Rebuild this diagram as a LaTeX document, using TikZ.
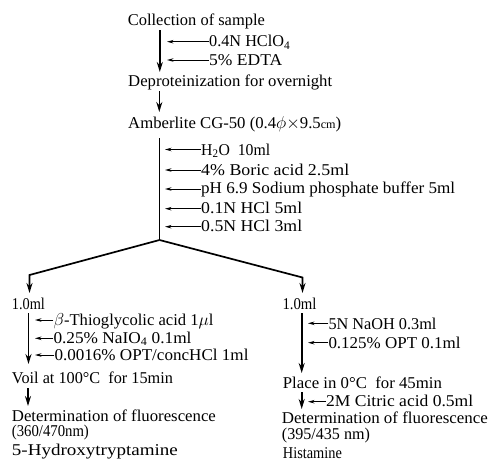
\documentclass[tikz,border=0pt]{standalone}
\usepackage{fontspec}
\usepackage{graphicx}
\setmainfont{Liberation Serif}
\usetikzlibrary{arrows.meta}
\newcommand\fw[2]{\resizebox{#1pt}{\height}{#2}}
\begin{document}
\begin{tikzpicture}[x=1pt,y=-1pt,
  txt/.style={anchor=base west,inner sep=0pt,font=\fontsize{16.5}{17}\selectfont},
  main/.style={line width=1.6pt,-{Stealth[length=10pt,width=6pt]}},
  side/.style={line width=0.9pt,-{Stealth[length=6.5pt,width=3.5pt]}},
  branch/.style={line width=1.7pt}]
\useasboundingbox (0,0) rectangle (489,466);

% top part
\node[txt] (coll) at (127.7,25) {\fw{137}{Collection of sample}};
\node[txt] (r1) at (209,46.7) {\fw{81}{0.4N HClO\textsubscript{4}}};
\node[txt] (r2) at (209,65) {\fw{73}{5\% EDTA}};
\node[txt] (dep) at (128,86.7) {\fw{204}{Deproteinization for overnight}};
\node[txt] (amb) at (128,128.3) {\fw{213}{Amberlite CG-50 (0.4$\phi$$\times$9.5{\fontsize{12}{12}\selectfont cm})}};

\coordinate (a1s) at (159.8,30);
\coordinate (a1e) at (159.8,72);
\draw[main] (a1s) -- (a1e);
\coordinate (r1e) at (167,41.7);
\coordinate (r2e) at (167,60);
\draw[side] (r1e -| r1.west) -- (r1e);
\draw[side] (r2e -| r2.west) -- (r2e);

\coordinate (a2s) at (159.3,91);
\coordinate (a2e) at (159.3,112);
\draw[main] (a2s) -- (a2e);

% column
\node[txt] (c1) at (201,155) {\fw{69}{H\textsubscript{2}O\ \ 10ml}};
\node[txt] (c2) at (201,175) {\fw{148}{4\% Boric acid 2.5ml}};
\node[txt] (c3) at (201,193.5) {\fw{254}{pH 6.9 Sodium phosphate buffer 5ml}};
\node[txt] (c4) at (201,213) {\fw{101}{0.1N HCl 5ml}};
\node[txt] (c5) at (201,231.5) {\fw{101}{0.5N HCl 3ml}};
\coordinate (c1e) at (165,149.5);
\coordinate (c2e) at (165,170);
\coordinate (c3e) at (165,189);
\coordinate (c4e) at (165,208.7);
\coordinate (c5e) at (165,226.7);
\foreach \n in {1,...,5} {\draw[side] (c\n e -| c\n.west) -- (c\n e);}

\coordinate (a3s) at (159.5,138);
\coordinate (br) at (159.5,240);
\coordinate (bl) at (29.5,275);
\coordinate (bltip) at (29.5,293);
\coordinate (brr) at (302.5,277.5);
\coordinate (brtip) at (302.5,293);
\draw[branch] (a3s) -- (br);
\draw[branch,-{Stealth[length=10pt,width=6pt]}] (br) -- (bl) -- (bltip);
\draw[branch,-{Stealth[length=10pt,width=6pt]}] (br) -- (brr) -- (brtip);

% left branch
\node[txt] (l0) at (11.7,309) {\fw{33}{1.0ml}};
\node[txt] (l1) at (53.3,325) {\fw{160}{$\beta$-Thioglycolic acid 1$\mu$l}};
\node[txt] (l2) at (53.3,343.3) {\fw{138}{0.25\% NaIO\textsubscript{4} 0.1ml}};
\node[txt] (l3) at (54.3,360) {\fw{194}{0.0016\% OPT/concHCl 1ml}};
\coordinate (l1e) at (35,320);
\coordinate (l2e) at (35,338.3);
\coordinate (l3e) at (35,355);
\foreach \n in {1,2,3} {\draw[side] (l\n e -| l\n.west) -- (l\n e);}
\coordinate (la1s) at (28.5,313);
\coordinate (la1e) at (28.5,364);
\draw[main] (la1s) -- (la1e);
\node[txt] (voil) at (11.7,383) {\fw{161}{Voil at 100°C\ \ for 15min}};
\coordinate (la2s) at (28,388);
\coordinate (la2e) at (28,406);
\draw[main] (la2s) -- (la2e);
\node[txt] (ldet) at (11.7,421.5) {\fw{204}{Determination of fluorescence}};
\node[txt] (lnm) at (11.7,436.5) {\fw{77}{(360/470nm)}};
\node[txt] (lname) at (11.7,455.5) {\fw{166}{5-Hydroxytryptamine}};

% right branch
\node[txt] (rr0) at (282.3,309) {\fw{34}{1.0ml}};
\node[txt] (rr1) at (328.3,329) {\fw{108}{5N NaOH 0.3ml}};
\node[txt] (rr2) at (328.3,348) {\fw{132}{0.125\% OPT 0.1ml}};
\coordinate (rr1e) at (308,323.3);
\coordinate (rr2e) at (308,342.7);
\foreach \n in {1,2} {\draw[side] (rr\n e -| rr\n.west) -- (rr\n e);}
\coordinate (ra1s) at (301.7,313);
\coordinate (ra1e) at (301.7,373);
\draw[main] (ra1s) -- (ra1e);
\node[txt] (place) at (282.7,388) {\fw{159}{Place in 0°C\ \ for 45min}};
\coordinate (ra2s) at (301.7,392);
\coordinate (ra2e) at (301.7,409);
\draw[main] (ra2s) -- (ra2e);
\node[txt] (rr3) at (326,406) {\fw{147}{2M Citric acid 0.5ml}};
\coordinate (rr3e) at (308,401.7);
\draw[side] (rr3e -| rr3.west) -- (rr3e);
\node[txt] (rdet) at (281.7,423.5) {\fw{206}{Determination of fluorescence}};
\node[txt] (rnm) at (281.7,439.5) {\fw{88}{(395/435 nm)}};
\node[txt] (rname) at (282.7,458) {\fw{59}{Histamine}};
\end{tikzpicture}
\end{document}
